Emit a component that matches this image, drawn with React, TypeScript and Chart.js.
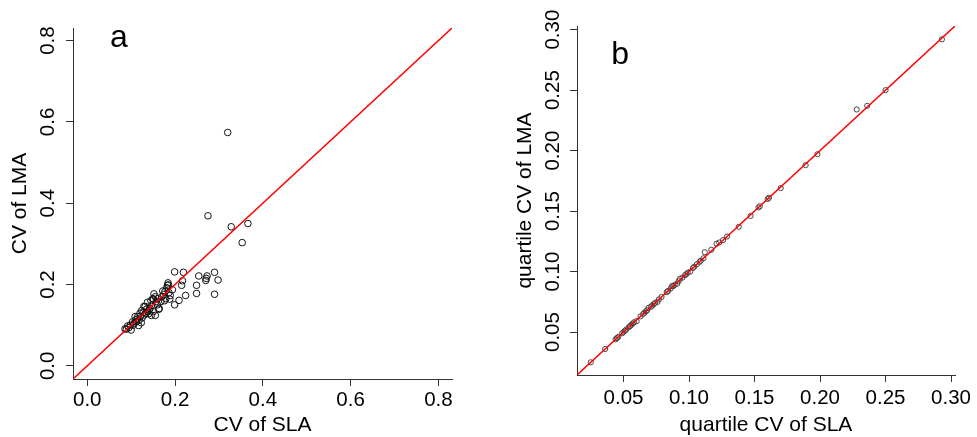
import React, { useEffect, useRef } from "react";
import { Chart, registerables } from "chart.js";

Chart.register(...registerables);

// ---------- Panel a: CV of SLA vs CV of LMA ----------
const slaCvA = [
  0.320, 0.275, 0.328, 0.366, 0.353, 0.199, 0.219, 0.254, 0.273, 0.271,
  0.270, 0.290, 0.298, 0.290, 0.249, 0.249, 0.224, 0.209, 0.199, 0.215,
  0.217, 0.184, 0.183, 0.181, 0.194, 0.189, 0.177, 0.172, 0.176, 0.179,
  0.152, 0.160, 0.149, 0.137, 0.164, 0.155, 0.146, 0.129, 0.141, 0.124,
  0.120, 0.109, 0.114, 0.123, 0.117, 0.103, 0.100, 0.092, 0.086, 0.133,
  0.188, 0.174, 0.157, 0.151, 0.143, 0.163, 0.132, 0.127, 0.138, 0.140,
  0.130, 0.125, 0.121, 0.118, 0.112, 0.107, 0.105, 0.098, 0.095, 0.089,
  0.150, 0.168, 0.145, 0.186, 0.185, 0.170, 0.160, 0.147, 0.135, 0.115,
  0.110, 0.155,
];
const lmaCvA = [
  0.574, 0.369, 0.342, 0.350, 0.303, 0.231, 0.230, 0.221, 0.221, 0.215,
  0.210, 0.230, 0.211, 0.176, 0.178, 0.198, 0.173, 0.161, 0.150, 0.198,
  0.209, 0.204, 0.198, 0.192, 0.187, 0.173, 0.183, 0.184, 0.160, 0.165,
  0.177, 0.165, 0.165, 0.156, 0.141, 0.124, 0.124, 0.146, 0.137, 0.136,
  0.129, 0.121, 0.115, 0.106, 0.099, 0.108, 0.088, 0.098, 0.091, 0.129,
  0.164, 0.175, 0.158, 0.164, 0.141, 0.139, 0.146, 0.131, 0.133, 0.128,
  0.125, 0.118, 0.122, 0.112, 0.108, 0.105, 0.100, 0.100, 0.094, 0.090,
  0.133, 0.158, 0.160, 0.180, 0.199, 0.170, 0.150, 0.149, 0.139, 0.121,
  0.113, 0.170,
];
const axisLimA = [-0.0325, 0.831];
const tickValuesA = [0, 0.2, 0.4, 0.6, 0.8];
const tickLabelsA = ["0.0", "0.2", "0.4", "0.6", "0.8"];

// ---------- Panel b: quartile CV of SLA vs quartile CV of LMA ----------
const slaQcvB = [
  0.293, 0.250, 0.236, 0.228, 0.198, 0.189, 0.170, 0.161, 0.160, 0.154,
  0.153, 0.147, 0.138, 0.129, 0.126, 0.123, 0.121, 0.117, 0.112, 0.111,
  0.109, 0.108, 0.106, 0.104, 0.103, 0.101, 0.099, 0.098, 0.097, 0.095,
  0.093, 0.092, 0.091, 0.089, 0.088, 0.087, 0.086, 0.084, 0.083, 0.079,
  0.077, 0.076, 0.074, 0.073, 0.072, 0.071, 0.069, 0.068, 0.067, 0.066,
  0.065, 0.063, 0.060, 0.058, 0.057, 0.056, 0.055, 0.054, 0.052, 0.051,
  0.050, 0.049, 0.046, 0.045, 0.044, 0.036, 0.025,
];
const lmaQcvB = [
  0.292, 0.250, 0.237, 0.234, 0.197, 0.188, 0.169, 0.161, 0.160, 0.154,
  0.153, 0.146, 0.137, 0.129, 0.126, 0.124, 0.123, 0.118, 0.116, 0.111,
  0.109, 0.108, 0.106, 0.104, 0.103, 0.100, 0.099, 0.098, 0.097, 0.095,
  0.094, 0.092, 0.090, 0.089, 0.088, 0.088, 0.086, 0.084, 0.083, 0.079,
  0.077, 0.075, 0.074, 0.073, 0.072, 0.071, 0.070, 0.068, 0.067, 0.066,
  0.065, 0.063, 0.059, 0.058, 0.057, 0.056, 0.055, 0.054, 0.052, 0.051,
  0.050, 0.049, 0.046, 0.045, 0.044, 0.036, 0.025,
];
const axisLimB = [0.0145, 0.303];
const tickValuesB = [0.05, 0.1, 0.15, 0.2, 0.25, 0.3];
const tickLabelsB = ["0.05", "0.10", "0.15", "0.20", "0.25", "0.30"];

const FONT = "'Liberation Sans', Arial, Helvetica, sans-serif";
const AXIS_COLOR = "#333333";
const TICK_FONT_SIZE = 20.5;
const TITLE_FONT_SIZE = 21;

type PanelCfg = {
  xs: number[];
  ys: number[];
  lim: number[];
  tickValues: number[];
  tickLabels: string[];
  xTitle: string;
  yTitle: string;
  letter: string;
  letterAt: [number, number];
  padTop: number;
  padRight: number;
  yAxisWidth: number;
  xAxisHeight: number;
  yTickPad: number;
  xTickPad: number;
  yTitlePad: number;
  xTitlePad: number;
  pointRadius: number;
  pointColor: string;
};

function makeConfig(p: PanelCfg): any {
  const points = p.xs.map((x, i) => ({ x, y: p.ys[i] }));
  const letterPlugin = {
    id: "panelLetter",
    afterDraw(chart: any) {
      const { ctx, scales } = chart;
      ctx.save();
      ctx.font = `32px ${FONT}`;
      ctx.fillStyle = "#000";
      ctx.textAlign = "left";
      ctx.textBaseline = "alphabetic";
      ctx.fillText(
        p.letter,
        scales.x.getPixelForValue(p.letterAt[0]),
        scales.y.getPixelForValue(p.letterAt[1])
      );
      ctx.restore();
    },
  };
  const commonGrid = {
    drawOnChartArea: false,
    drawTicks: true,
    tickLength: 7,
    color: AXIS_COLOR,
    lineWidth: 1,
  };
  return {
    type: "scatter",
    data: {
      datasets: [
        {
          label: "1:1",
          data: [
            { x: p.lim[0], y: p.lim[0] },
            { x: p.lim[1], y: p.lim[1] },
          ],
          showLine: true,
          borderColor: "#ff0000",
          borderWidth: 1.5,
          pointRadius: 0,
          order: 0,
        },
        {
          label: "species",
          data: points,
          pointRadius: p.pointRadius,
          pointStyle: "circle",
          backgroundColor: "rgba(0,0,0,0)",
          borderColor: p.pointColor,
          borderWidth: 1,
          order: 1,
        },
      ],
    },
    options: {
      animation: false,
      responsive: false,
      devicePixelRatio: 1,
      events: [],
      layout: {
        padding: { top: p.padTop, right: p.padRight, left: 0, bottom: 0 },
      },
      plugins: { legend: { display: false }, tooltip: { enabled: false } },
      scales: {
        x: {
          type: "linear",
          min: p.lim[0],
          max: p.lim[1],
          afterBuildTicks: (s: any) => {
            s.ticks = p.tickValues.map((v) => ({ value: v }));
          },
          afterFit: (s: any) => {
            s.height = p.xAxisHeight;
          },
          ticks: {
            autoSkip: false,
            maxRotation: 0,
            padding: p.xTickPad,
            color: "#000",
            font: { family: FONT, size: TICK_FONT_SIZE },
            callback: (_v: any, i: number) => p.tickLabels[i],
          },
          grid: commonGrid,
          border: { display: true, color: AXIS_COLOR, width: 1 },
          title: {
            display: true,
            text: p.xTitle,
            color: "#000",
            font: { family: FONT, size: TITLE_FONT_SIZE },
            padding: { top: 0, bottom: p.xTitlePad },
          },
        },
        y: {
          type: "linear",
          min: p.lim[0],
          max: p.lim[1],
          afterBuildTicks: (s: any) => {
            s.ticks = p.tickValues.map((v) => ({ value: v }));
          },
          afterFit: (s: any) => {
            s.width = p.yAxisWidth;
          },
          ticks: {
            autoSkip: false,
            minRotation: 90,
            maxRotation: 90,
            crossAlign: "center",
            padding: p.yTickPad,
            color: "#000",
            font: { family: FONT, size: TICK_FONT_SIZE },
            callback: (_v: any, i: number) => p.tickLabels[i],
          },
          grid: commonGrid,
          border: { display: true, color: AXIS_COLOR, width: 1 },
          title: {
            display: true,
            text: p.yTitle,
            color: "#000",
            font: { family: FONT, size: TITLE_FONT_SIZE },
            padding: { top: p.yTitlePad, bottom: 0 },
          },
        },
      },
    },
    plugins: [letterPlugin],
  };
}

const panelA: PanelCfg = {
  xs: slaCvA,
  ys: lmaCvA,
  lim: axisLimA,
  tickValues: tickValuesA,
  tickLabels: tickLabelsA,
  xTitle: "CV of SLA",
  yTitle: "CV of LMA",
  letter: "a",
  letterAt: [0.052, 0.784],
  padTop: 28,
  padRight: 36,
  yAxisWidth: 73,
  xAxisHeight: 58,
  yTickPad: 3.25,
  xTickPad: 2,
  yTitlePad: 7.9,
  xTitlePad: -1.1,
  pointRadius: 3.3,
  pointColor: "#111111",
};

const panelB: PanelCfg = {
  xs: slaQcvB,
  ys: lmaQcvB,
  lim: axisLimB,
  tickValues: tickValuesB,
  tickLabels: tickLabelsB,
  xTitle: "quartile CV of SLA",
  yTitle: "quartile CV of LMA",
  letter: "b",
  letterAt: [0.0406, 0.272],
  padTop: 26,
  padRight: 22,
  yAxisWidth: 89,
  xAxisHeight: 62,
  yTickPad: -3.25,
  xTickPad: 4,
  yTitlePad: 24.4,
  xTitlePad: -0.6,
  pointRadius: 2.6,
  pointColor: "#444444",
};

function Panel({ cfg, left, width }: { cfg: PanelCfg; left: number; width: number }) {
  const ref = useRef<HTMLCanvasElement | null>(null);
  useEffect(() => {
    if (!ref.current) return;
    const chart = new Chart(ref.current, makeConfig(cfg));
    return () => chart.destroy();
  }, [cfg]);
  return (
    <canvas
      ref={ref}
      width={width}
      height={437}
      style={{ position: "absolute", left, top: 0, width, height: 437, display: "block" }}
    />
  );
}

export default function App() {
  return (
    <div
      style={{
        position: "absolute",
        left: 0,
        top: 0,
        width: 977,
        height: 437,
        background: "#ffffff",
        overflow: "hidden",
      }}
    >
      <Panel cfg={panelA} left={0} width={488} />
      <Panel cfg={panelB} left={488} width={489} />
    </div>
  );
}
